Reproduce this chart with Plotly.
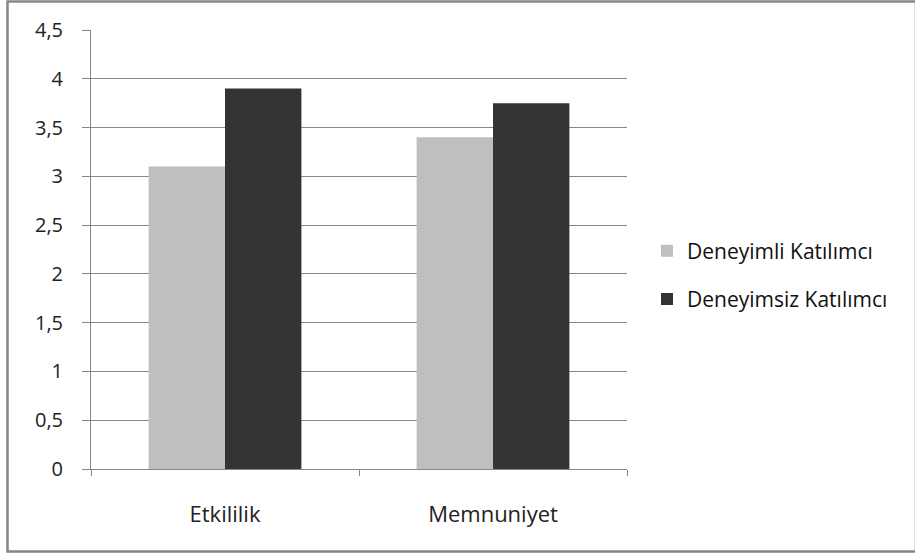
import plotly.graph_objects as go

categories = ["Etkililik", "Memnuniyet"]
series_names = ["Deneyimli Katılımcı", "Deneyimsiz Katılımcı"]
deneyimli = [3.1, 3.4]
deneyimsiz = [3.9, 3.75]
y_ticks = [0, 0.5, 1, 1.5, 2, 2.5, 3, 3.5, 4, 4.5]

colors = ["#BFBFBF", "#353335"]
font_family = "'Open Sans', sans-serif"

fig = go.Figure()
for name, vals, col in zip(series_names, [deneyimli, deneyimsiz], colors):
    fig.add_trace(go.Bar(x=categories, y=vals, name=name, marker_color=col,
                         marker_line_width=0, legendgroup=name))

L, R, T, B = 91, 288, 30, 85
W, H = 915, 554
pw, ph = W - L - R, H - T - B

def px(x):
    return (x - L) / pw

def py(y):
    return (H - B - y) / ph

fig.update_layout(
    width=W, height=H,
    margin=dict(l=L, r=R, t=T, b=B, pad=0),
    paper_bgcolor="white", plot_bgcolor="white",
    separators=", ",
    barmode="group", bargap=0.43, bargroupgap=0,
    font=dict(family=font_family, size=20, color="#222222"),
    showlegend=True,
    legend=dict(x=px(647), y=py(275), xanchor="left", yanchor="middle",
                font=dict(size=21, color="#111111"), tracegroupgap=18,
                itemwidth=30, bgcolor="rgba(0,0,0,0)"),
    xaxis=dict(showgrid=False, showline=True, linecolor="#878787", linewidth=1,
               ticks="outside", tickson="boundaries", ticklen=6, tickcolor="#878787",
               ticklabelstandoff=26, tickfont=dict(size=22, color="#222222")),
    yaxis=dict(range=[0, 4.5], tickvals=y_ticks, showgrid=True, gridcolor="#878787",
               gridwidth=1, showline=True, linecolor="#878787", linewidth=1,
               ticks="outside", ticklen=8, tickcolor="#878787",
               ticklabelstandoff=15, zeroline=False,
               tickfont=dict(size=20, color="#222222")),
    shapes=[dict(type="rect", xref="paper", yref="paper",
                 x0=px(7.5), x1=px(916), y0=py(551.5), y1=py(1.5),
                 line=dict(color="#878787", width=2.5), layer="below")],
)

fig.write_html("out.html")
